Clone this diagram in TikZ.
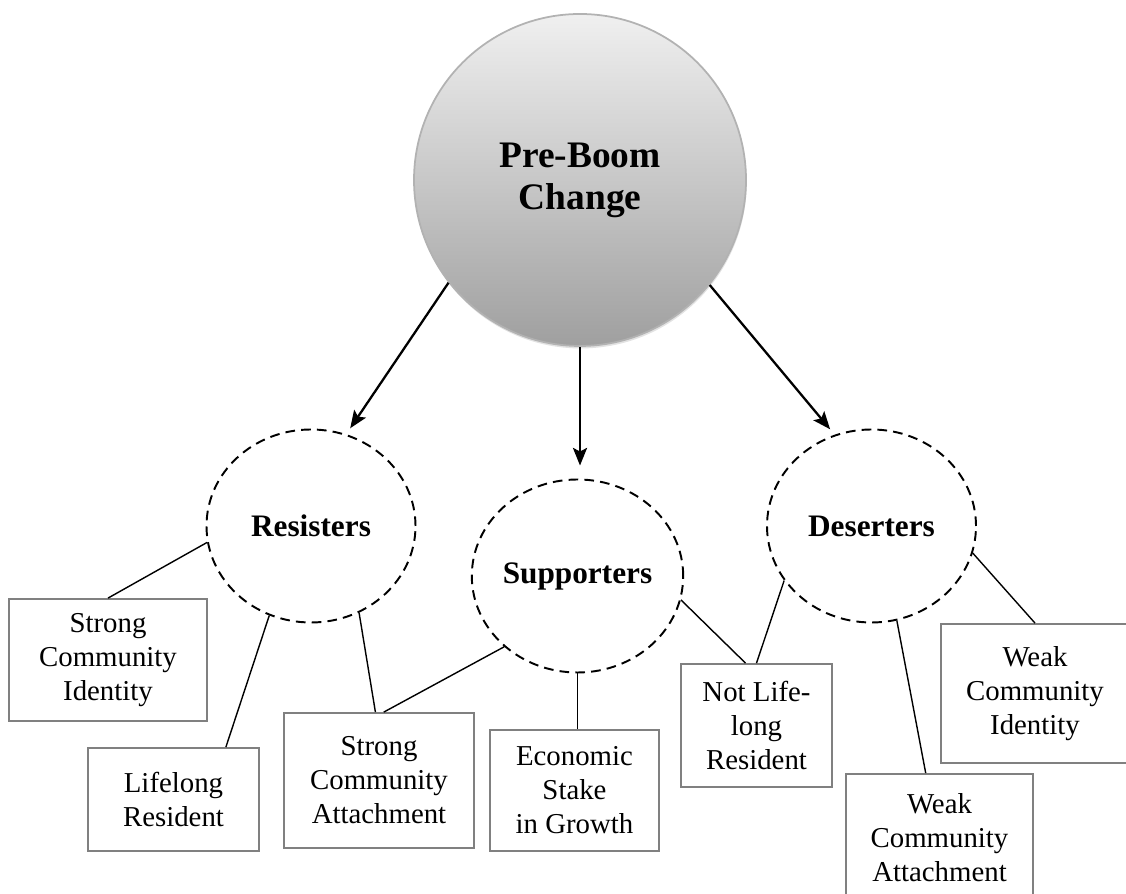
\documentclass[tikz,border=0pt]{standalone}
\usepackage{fontspec}
\setmainfont{Liberation Serif}
\usepackage{tikz}
\usetikzlibrary{arrows.meta,shapes,shadows,calc}
\usepackage{xcolor}
\definecolor{box-gray}{RGB}{128,128,128}
\tikzstyle{boom}=[circle, minimum size=6.64cm, draw=gray!60, line width=1pt, top color=gray!12, bottom color=gray!75, align=center, font=\fontsize{21.3}{23.8}\selectfont\bfseries, drop shadow={shadow xshift=0.4pt, shadow yshift=-1.4pt, fill=gray!45}]
\tikzstyle{groupring}=[ellipse, draw, dash pattern=on 5.5pt off 3.5pt, line width=1.1pt, minimum width=4.18cm, minimum height=3.86cm, inner sep=0pt, font=\fontsize{17.8}{21}\selectfont\bfseries]
\tikzstyle{traitbox}=[rectangle, draw=box-gray, line width=1pt, align=center, inner sep=0pt, font=\fontsize{16.4}{19.3}\selectfont]
\tikzstyle{link}=[line width=0.8pt]
\tikzstyle{flow}=[line width=1.3pt, -{Stealth[length=10pt,width=8pt,inset=2pt]}, shorten >=4pt]
\newcommand{\traitNbox}[5]{
	\node[traitbox, minimum width=#3cm, minimum height=#4cm] (#1) at #2 {#5};
}

\begin{document}
\begin{tikzpicture}
	\useasboundingbox (0,0) rectangle (22.52,17.88);
	\node[boom] (boom) at (11.6,14.28) {Pre-Boom\\Change};
	\node[groupring] (res) at (6.22,7.36) {Resisters};
	\node[groupring] (sup) at (11.55,6.36) {Supporters};
	\node[groupring] (des) at (17.43,7.36) {Deserters};
	\traitNbox{sci}{(2.16,4.68)}{3.96}{2.44}{Strong\\Community\\Identity}
	\traitNbox{lr}{(3.47,1.89)}{3.42}{2.06}{Lifelong\\Resident}
	\traitNbox{sca}{(7.58,2.27)}{3.80}{2.70}{Strong\\Community\\Attachment}
	\traitNbox{esg}{(11.49,2.07)}{3.38}{2.42}{Economic\\Stake\\in Growth}
	\traitNbox{nlr}{(15.13,3.37)}{3.02}{2.46}{Not Life-\\long\\Resident}
	\traitNbox{wci}{(20.70,4.01)}{3.76}{2.78}{Weak\\Community\\Identity}
	\traitNbox{wca}{(18.79,1.12)}{3.74}{2.56}{Weak\\Community\\Attachment}
	\draw[flow] (boom.218) -- (res.69);
	\draw[flow, shorten >=7.4pt] (boom.south) -- (boom.south |- sup.north);
	\draw[flow] (boom.321) -- (des.112);
	\draw[link] (res.189) -- (sci.north);
	\draw[link] (res.245) -- (lr.45);
	\draw[link] (res.299) -- (sca.93);
	\draw[link] (sup.224) -- (sca.86);
	\draw[link] (sup.south) -- (sup.south |- esg.north);
	\draw[link] (sup.347) -- (nlr.100);
	\draw[link] (des.212) -- (nlr.north);
	\draw[link] (des.285) -- (wca.102);
	\draw[link] (des.345) -- (wci.north);
\end{tikzpicture}
\end{document}
